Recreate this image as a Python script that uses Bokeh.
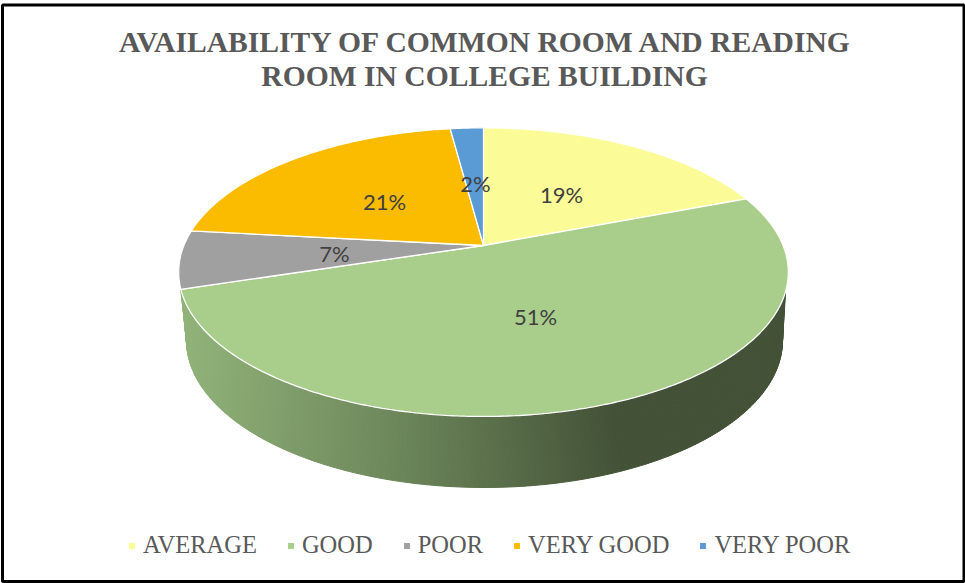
import numpy as np
from bokeh.plotting import figure
from bokeh.models import Range1d, Legend, LegendItem, ColumnDataSource
from bokeh.core.properties import value
from bokeh.embed import file_html
from bokeh.resources import INLINE

# --- data ---
categories = ["AVERAGE", "GOOD", "POOR", "VERY GOOD", "VERY POOR"]
shares = [19.2, 51.0, 6.5, 21.2, 2.1]
share_labels = ["19%", "51%", "7%", "21%", "2%"]
slice_colors = ["#FBFB98", "#A9CE8C", "#A0A0A0", "#FBBC00", "#5B9BD5"]
title_lines = ["AVAILABILITY  OF COMMON ROOM AND READING", "ROOM IN COLLEGE BUILDING"]

# --- geometry (pixel space) ---
W, H = 965, 583
AX, AY = 483.0, 245.0        # apex of the pie
A, B, K = 299.6, 139.4, 0.1846   # perspective of the top face
TOPC = (483.0, 272.0, 305.0, 144.0)
BOTC = (484.0, 340.0, 298.0, 147.0)
label_xy = [(561, 193.5), (535, 315.5), (334, 252.5), (384, 200.5), (475, 182.5)]
wall_stops_x = [180, 400, 617, 790]
wall_stops_rgb = [(146, 180, 122), (108, 134, 90), (67, 82, 55), (67, 82, 55)]

def project(theta):
    u, v = np.sin(theta), np.cos(theta)
    d = 1 + K * v
    return AX + A * u / d, AY - B * v / d

p = figure(width=W, height=H, output_backend="svg", toolbar_location=None,
           x_range=Range1d(0, W), y_range=Range1d(H, 0),
           min_border=0, outline_line_color=None, background_fill_color="white",
           border_fill_color="white")
p.styles = {"position": "absolute", "left": "0px", "top": "0px"}
p.xaxis.visible = False
p.yaxis.visible = False
p.grid.visible = False

# side wall: thin quads shaded along x
n = 260
phi_t = np.radians(np.linspace(8, 173, n + 1))
phi_b = np.radians(np.linspace(0, 180, n + 1))
tx = TOPC[0] + TOPC[2] * np.cos(phi_t)
ty = TOPC[1] + TOPC[3] * np.sin(phi_t)
bx = BOTC[0] + BOTC[2] * np.cos(phi_b)
by = BOTC[1] + BOTC[3] * np.sin(phi_b)
xs, ys, cols = [], [], []
for i in range(n):
    xs.append([tx[i], tx[i + 1], bx[i + 1], bx[i]])
    ys.append([ty[i], ty[i + 1], by[i + 1], by[i]])
    mx = 0.25 * (tx[i] + tx[i + 1] + bx[i] + bx[i + 1])
    rgb = [int(np.interp(mx, wall_stops_x, [c[j] for c in wall_stops_rgb])) for j in range(3)]
    cols.append("#%02x%02x%02x" % tuple(rgb))
p.patches(xs, ys, fill_color=cols, line_color=cols, line_width=1)

# top face
items = []
start = 0.0
for name, share, col in zip(categories, shares, slice_colors):
    t = np.linspace(start, start + share, max(int(share * 6), 12)) / sum(shares) * 2 * np.pi
    x, y = project(t)
    r = p.patch(np.r_[AX, x], np.r_[AY, y], fill_color=col, line_color="white", line_width=1.3)
    items.append(LegendItem(label=name, renderers=[r]))
    start += share

# data labels
src = ColumnDataSource(dict(x=[c[0] for c in label_xy], y=[c[1] for c in label_xy], t=share_labels))
p.text("x", "y", text="t", source=src, text_font=value("Lato"), text_font_size="22px",
       text_color="#404040", text_align="center", text_baseline="middle")

# title
p.text([489.5, 484], [41, 75], text=title_lines, text_font=value("Liberation Serif"),
       text_font_style="bold", text_font_size="29.6px", text_color="#595959",
       text_align="center", text_baseline="middle")

# frame
p.quad(left=[2], right=[963.5], top=[4.5], bottom=[581], fill_color=None,
       line_color="black", line_width=3)

legend = Legend(items=items, location=(127, 24), orientation="horizontal",
                glyph_width=9, glyph_height=9, label_standoff=7, spacing=29, padding=0, margin=0,
                label_text_font="Liberation Serif", label_text_font_size="24.5px",
                label_text_color="#595959", background_fill_alpha=0, border_line_color=None)
p.add_layout(legend)

open("out.html", "w").write(file_html(p, INLINE))
